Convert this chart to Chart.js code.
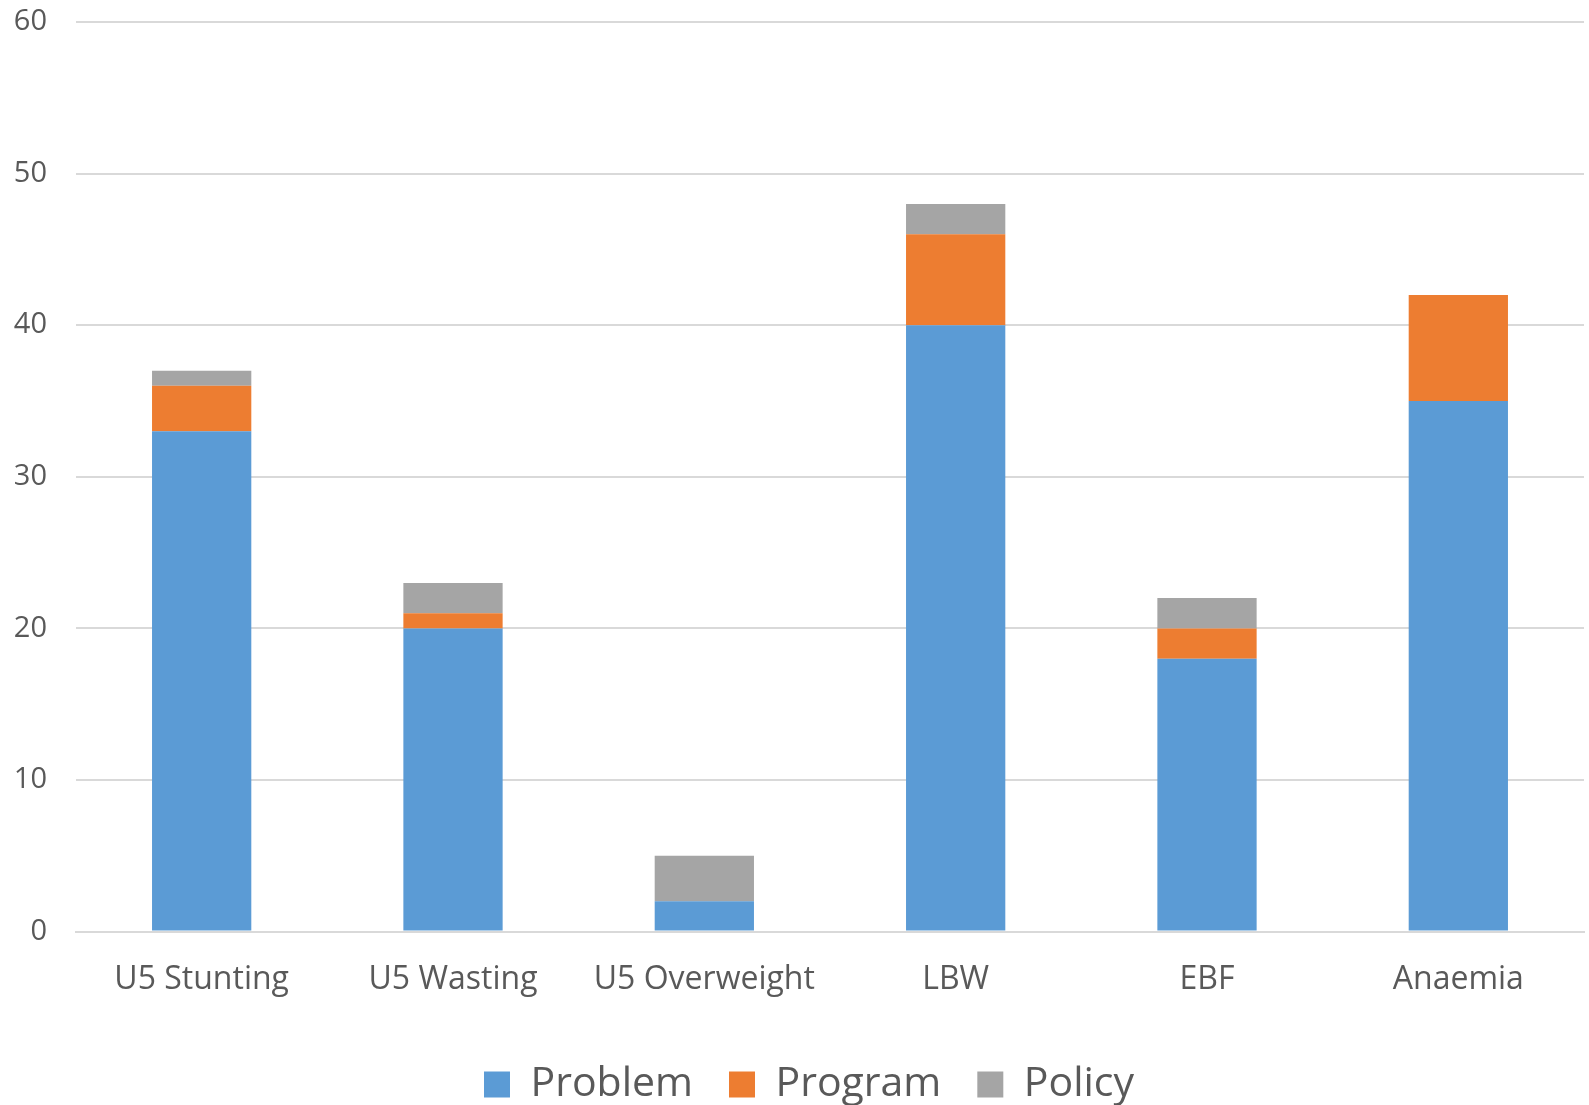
<!DOCTYPE html>
<html>
<head>
<meta charset="utf-8">
<script src="https://cdn.jsdelivr.net/npm/chart.js@4/dist/chart.umd.min.js"></script>
<style>
  html, body { margin: 0; padding: 0; background: #ffffff; }
  #wrap { width: 1589px; height: 1105px; position: relative; }
</style>
</head>
<body>
<div id="wrap"><canvas id="c" width="1589" height="1105"></canvas></div>
<script>
// Categories and stacked series
const categories = ['U5 Stunting', 'U5 Wasting', 'U5 Overweight', 'LBW', 'EBF', 'Anaemia'];
const problem = [33, 20, 2, 40, 18, 35];
const program = [3, 1, 0, 6, 2, 7];
const policy  = [1, 2, 3, 2, 2, 0];
const yTicks  = [0, 10, 20, 30, 40, 50, 60];

const textColor = '#595959';
const gridColor = '#d9d9d9';
const fontFamily = '"Open Sans", "Noto Sans", sans-serif';

// Centre the legend a little right of the canvas middle, under the plot
const legendShift = {
  id: 'legendShift',
  afterLayout(chart) {
    const lg = chart.legend;
    if (!lg) return;
    const plotCentre = (chart.chartArea.left + chart.chartArea.right) / 2;
    const dx = plotCentre - (lg.left + lg.right) / 2 - 21;
    lg.left += dx;
    lg.right += dx;
  }
};

const ctx = document.getElementById('c').getContext('2d');
new Chart(ctx, {
  type: 'bar',
  data: {
    labels: categories,
    datasets: [
      { label: 'Problem', data: problem, backgroundColor: '#5B9BD5' },
      { label: 'Program', data: program, backgroundColor: '#ED7D31' },
      { label: 'Policy',  data: policy,  backgroundColor: '#A5A5A5' }
    ]
  },
  plugins: [legendShift],
  options: {
    responsive: false,
    animation: false,
    devicePixelRatio: 1,
    layout: { padding: { top: 22, left: 10, right: 5, bottom: -10 } },
    datasets: {
      bar: { barPercentage: 0.395, categoryPercentage: 1.0, borderWidth: 0 }
    },
    scales: {
      x: {
        stacked: true,
        grid: { display: false, drawTicks: false },
        border: { display: true, color: gridColor, width: 2 },
        ticks: {
          color: textColor,
          padding: 29,
          font: { family: fontFamily, size: 32 }
        }
      },
      y: {
        stacked: true,
        min: 0,
        max: 60,
        afterFit: (scale) => {
          scale.width = 66;
          scale.paddingTop = 17;
          scale.paddingBottom = 17;
        },
        afterBuildTicks: (scale) => { scale.ticks = yTicks.map(v => ({ value: v })); },
        grid: { color: gridColor, lineWidth: 2, drawTicks: false },
        border: { display: false },
        ticks: {
          color: textColor,
          padding: 29,
          font: { family: fontFamily, size: 29 },
          callback: (value) => String(value)
        }
      }
    },
    plugins: {
      tooltip: { enabled: false },
      legend: {
        position: 'bottom',
        labels: {
          color: textColor,
          boxWidth: 26,
          boxHeight: 26,
          padding: 36,
          font: { family: fontFamily, size: 41 }
        }
      }
    }
  }
});
</script>
</body>
</html>
